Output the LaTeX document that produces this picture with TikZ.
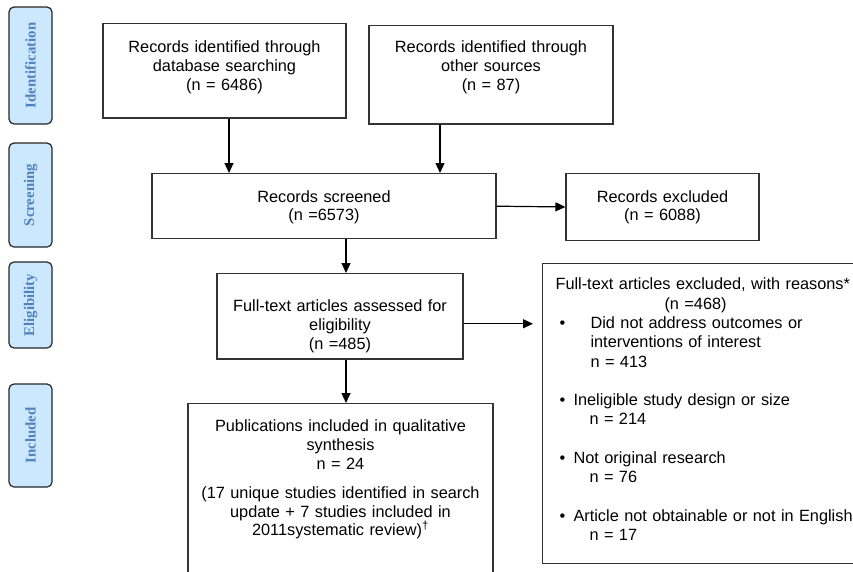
\documentclass[tikz,border=0pt]{standalone}
\usepackage{fontspec}
\setmainfont{Liberation Sans}
\newfontfamily\phasefont{Liberation Serif}
\usepackage{tikz}
\usetikzlibrary{arrows.meta,positioning,calc}
\definecolor{phasefill}{HTML}{CCE8FF}
\definecolor{phasetext}{HTML}{4F81BD}
\definecolor{boxline}{HTML}{333333}
\newcommand{\topgap}[1]{\rule{0pt}{#1pt}}
\newcommand{\botgap}[1]{\rule[-#1pt]{0pt}{#1pt}}
\tikzset{
  phasebox/.style={draw=black!85, rounded corners=5pt, line width=1.2pt, fill=phasefill, text=phasetext, font=\phasefont\bfseries\fontsize{14.8}{16}\selectfont, rotate=90, minimum height=43pt, inner sep=0pt},
  flowbox/.style={draw=boxline, line width=1.1pt, fill=white, align=center, anchor=north, inner xsep=3pt, inner ysep=0pt, font=\fontsize{16.3}{18.8}\selectfont},
  flowline/.style={-{Triangle[length=10pt,width=9pt]}, line width=1.2pt}
}

\begin{document}
\begin{tikzpicture}[x=1pt,y=-1pt]
  \useasboundingbox[fill=white] (0,0) rectangle (853,571);

  % phases
  \node[phasebox, minimum width=117pt] (idn) at (30.5,65.5) {Identification};
  \node[phasebox, minimum width=104pt] (scr) at (30.5,195) {Screening};
  \node[phasebox, minimum width=86pt] (eli) at (30.5,305) {Eligibility};
  \node[phasebox, minimum width=103pt] (inc) at (30.5,435.5) {Included};

  % boxes
  \node[flowbox, text width=237pt] (db) at (224.5,23) {\topgap{29.3}Records identified through\\database searching\\(n = 6486)\botgap{27.5}};
  \node[flowbox, text width=238pt] (other) at (491,25) {\topgap{27.3}Records identified through\\other sources\\(n = 87)\botgap{33.5}};
  \node[flowbox, text width=338pt] (screen) at (324,173) {\topgap{28.5}Records screened\\(n =6573)\botgap{18}};
  \node[flowbox, text width=187pt] (recex) at (662.5,173) {\topgap{28.5}Records excluded\\(n = 6088)\botgap{19.5}};
  \node[flowbox, text width=240pt] (elig) at (340,273) {\topgap{38}Full-text articles assessed for\\eligibility\\(n =485)\botgap{9.8}};
  \node[flowbox, text width=299pt] (incl) at (340.5,403) {\topgap{28.3}Publications included in qualitative\\synthesis\\n = 24\\[10pt](17 unique studies identified in search\\update + 7 studies included in\\2011systematic review)\textsuperscript{\dag}\botgap{68}};
  \node[flowbox, anchor=north west, align=left, text width=310pt, inner xsep=13pt, font=\fontsize{16.3}{19.3}\selectfont] (ftex) at (542,263) {\topgap{26.3}Full-text articles excluded, with reasons*\\
    \makebox[280pt]{(n =468)}\\
    \makebox[35pt][l]{\hspace*{4pt}\textbullet}Did not address outcomes or\\
    \hspace*{35pt}interventions of interest\\
    \hspace*{35pt}n = 413\\[19.3pt]
    \makebox[18pt][l]{\hspace*{4pt}\textbullet}Ineligible study design or size\\
    \hspace*{34pt}n = 214\\[19.3pt]
    \makebox[18pt][l]{\hspace*{4pt}\textbullet}Not original research\\
    \hspace*{34pt}n = 76\\[19.3pt]
    \makebox[18pt][l]{\hspace*{4pt}\textbullet}Article not obtainable or not in English\\
    \hspace*{34pt}n = 17\botgap{22.4}};

  % arrows
  \draw[flowline] ([xshift=4.5pt]db.south) -- ([xshift=4.5pt]db.south |- screen.north);
  \draw[flowline] ([xshift=-51pt]other.south) -- ([xshift=-51pt]other.south |- screen.north);
  \draw[flowline] (screen.east) -- (recex.west);
  \draw[flowline] ([xshift=22pt]screen.south) -- ([xshift=22pt]screen.south |- elig.north);
  \draw[flowline, shorten >=9pt] ([yshift=-7.5pt]elig.east) -- ([yshift=-7.5pt]elig.east -| ftex.west);
  \draw[flowline] ([xshift=6pt]elig.south) -- ([xshift=6pt]elig.south |- incl.north);
\end{tikzpicture}
\end{document}
